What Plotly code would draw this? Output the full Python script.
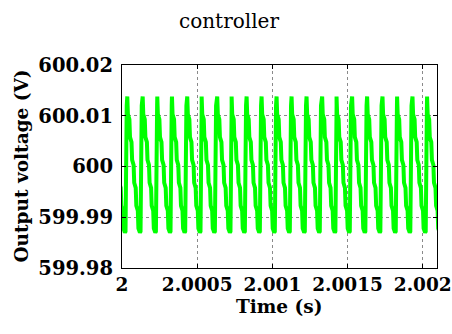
import plotly.graph_objects as go

# ---- data ----
title_text = "controller"
x_label = "Time (s)"
y_label = "Output voltage (V)"

# times of the waveform peaks (s)
peak_times = [1.9999354, 2.0000352, 2.0001375, 2.0002346, 2.0003322, 2.0004339,
              2.0005296, 2.0006332, 2.0007289, 2.0008286, 2.0009282, 2.0010279,
              2.0011276, 2.0012272, 2.0013309, 2.0014266, 2.0015302, 2.0016299,
              2.0017322, 2.0018292, 2.0019316, 2.0020286]

# shape of one switching cycle (stepped decay, fast rise):
# offset after the peak (microseconds) and voltage (V)
cycle_offset_us = [0, 4, 14, 18, 28, 32, 42, 46, 56, 60, 70, 74, 84, 88, 96]
cycle_voltage = [600.0138, 600.0103, 600.0093, 600.0058, 600.0048, 600.0013,
                 600.0003, 599.9968, 599.9958, 599.9923, 599.9913, 599.9878,
                 599.9870, 599.9872, 600.0120]

x_ticks = [2, 2.0005, 2.001, 2.0015, 2.002]
x_tick_labels = ["2", "2.0005", "2.001", "2.0015", "2.002"]
y_ticks = [599.98, 599.99, 600, 600.01, 600.02]
y_tick_labels = ["599.98", "599.99", "600", "600.01", "600.02"]

x_range = [2.0, 2.0020946]
y_range = [599.98, 600.02]

# ---- assemble the trace ----
t, v = [], []
for p in peak_times:
    for off, val in zip(cycle_offset_us, cycle_voltage):
        t.append(p + off * 1e-6)
        v.append(val)

FONT = "DejaVu Serif"

fig = go.Figure()
fig.add_trace(go.Scatter(x=t, y=v, mode="lines",
                         line=dict(color="#00FF00", width=4),
                         showlegend=False, hoverinfo="skip"))

axis_common = dict(
    showline=True, linecolor="black", linewidth=1.2, mirror="ticks",
    ticks="inside", ticklen=4, tickcolor="black", tickwidth=1,
    showgrid=True, gridcolor="#8a8a8a", griddash="dot", gridwidth=1,
    zeroline=False, ticklabeloverflow="allow", automargin=False,
)

fig.update_xaxes(range=x_range, tickvals=x_ticks, ticktext=x_tick_labels,
                 tickfont=dict(family=FONT, size=18.5, color="black", weight="bold"),
                 **axis_common)
fig.update_yaxes(range=y_range, tickvals=y_ticks, ticktext=y_tick_labels,
                 ticklabelstandoff=4,
                 tickfont=dict(family=FONT, size=19.5, color="black", weight="bold"),
                 **axis_common)

fig.update_layout(
    width=452, height=334,
    margin=dict(l=122, r=15, t=65, b=66, autoexpand=False),
    paper_bgcolor="white", plot_bgcolor="white",
    annotations=[
        dict(text=title_text, xref="paper", yref="paper", x=0.3397, y=1.2167,
             xanchor="center", yanchor="middle", showarrow=False,
             font=dict(family=FONT, size=20, color="black")),
        dict(text=x_label, xref="paper", yref="paper", x=0.5, y=-0.192,
             xanchor="center", yanchor="middle", showarrow=False,
             font=dict(family=FONT, size=18.5, color="black", weight="bold")),
        dict(text=y_label, xref="paper", yref="paper", x=-0.3206, y=0.5,
             xanchor="center", yanchor="middle", showarrow=False, textangle=-90,
             font=dict(family=FONT, size=18.5, color="black", weight="bold")),
    ],
)

# remove the default page margin so the figure fills the window exactly
fig.write_html("out.html",
               config={"displayModeBar": False},
               post_script="document.body.style.margin='0';document.body.style.overflow='hidden';")
